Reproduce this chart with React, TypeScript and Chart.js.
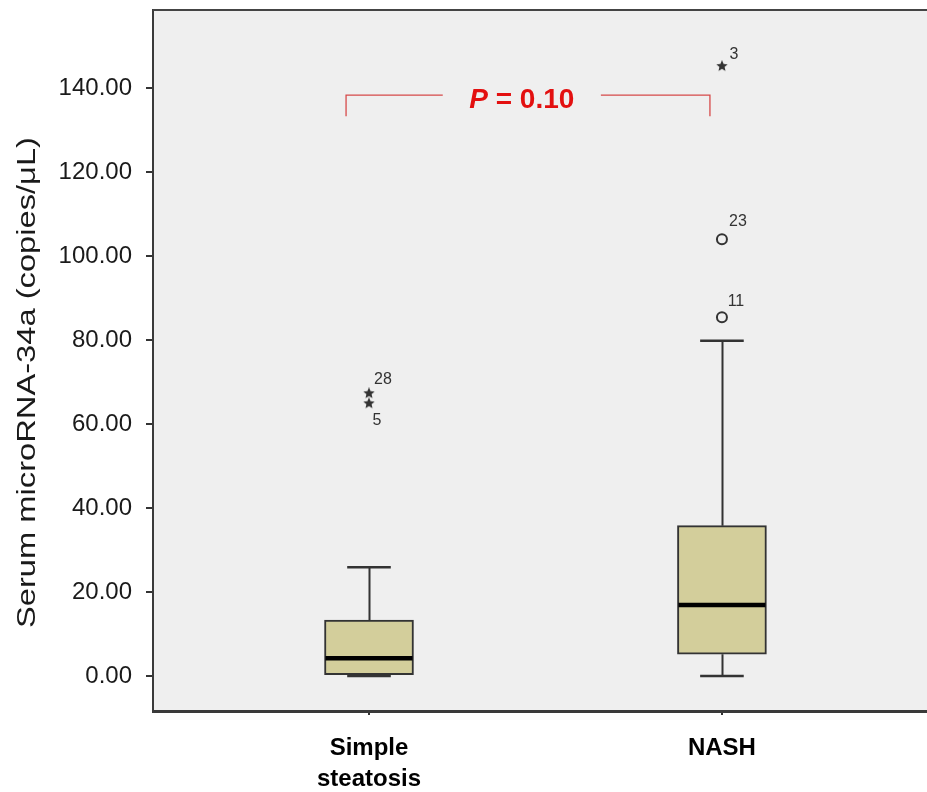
import React, { useEffect, useRef } from 'react';
import { Chart, registerables } from 'chart.js';

Chart.register(...registerables);

// ---------------- data ----------------
const categories = ['Simple steatosis', 'NASH'];
const categoryLabels = [['Simple', 'steatosis'], ['NASH']];
const categoryX = [1, 2];
const whiskerLow = [0, 0];
const q1 = [0.3, 5.2];
const median = [4.2, 16.9];
const q3 = [13.3, 35.8];
const whiskerHigh = [25.9, 79.8];
// extreme values (stars) and outliers (circles), per category
const extremeValues = [[67.3, 64.9], [145.2]];
const extremeIds = [['28', '5'], ['3']];
const outlierValues = [[], [104.0, 85.4]];
const outlierIds = [[], ['23', '11']];
const yTicks = [0, 20, 40, 60, 80, 100, 120, 140];
const yTitle = 'Serum microRNA-34a (copies/\u03BCL)';
const pPrefix = 'P';
const pSuffix = ' = 0.10';

// ---------------- styles / placement ----------------
const Y_MIN = -8.33;
const Y_MAX = 158.57;
const X_MIN = 0.388;
const X_MAX = 2.581;
const BOX_FILL = '#d3ce9b';
const DARK = '#333333';
const PLOT_BG = '#efefef';
const RED_LINE = '#d64a4a';
const RED_TEXT = '#e31010';
const labelOffsets: Record<string, [number, number]> = {
  '28': [14, -14],
  '5': [8, 17],
  '3': [12, -12],
  '23': [16, -18],
  '11': [14, -16],
};
// bracket for the P value (data coordinates)
const bracket = { x1: 0.935, x2: 1.966, yTop: 138.3, yBottom: 133.3, gapL: 1.209, gapR: 1.657, textX: 1.433, textY: 137.1 };

function makeStar(size: number, color: string) {
  const c = document.createElement('canvas');
  c.width = size;
  c.height = size;
  const g = c.getContext('2d')!;
  g.fillStyle = color;
  g.beginPath();
  const cx = size / 2, cy = size / 2, R = size / 2, r = R * 0.45;
  for (let k = 0; k < 10; k++) {
    const a = -Math.PI / 2 + (k * Math.PI) / 5;
    const rad = k % 2 === 0 ? R : r;
    g.lineTo(cx + rad * Math.cos(a), cy + rad * Math.sin(a));
  }
  g.closePath();
  g.fill();
  return c;
}

const boxPlugin = {
  id: 'boxExtras',
  beforeDraw(chart: any) {
    const { ctx, chartArea } = chart;
    ctx.save();
    ctx.fillStyle = PLOT_BG;
    ctx.fillRect(chartArea.left, chartArea.top, chartArea.right - chartArea.left, chartArea.bottom - chartArea.top);
    ctx.restore();
  },
  beforeDatasetsDraw(chart: any) {
    const { ctx, scales } = chart;
    const x = scales.x, y = scales.y;
    ctx.save();
    ctx.strokeStyle = DARK;
    ctx.lineWidth = 2;
    categoryX.forEach((cx, i) => {
      const px = Math.round(x.getPixelForValue(cx)) + 0.5;
      ctx.beginPath();
      ctx.moveTo(px, y.getPixelForValue(q3[i]));
      ctx.lineTo(px, y.getPixelForValue(whiskerHigh[i]));
      ctx.moveTo(px, y.getPixelForValue(q1[i]));
      ctx.lineTo(px, y.getPixelForValue(whiskerLow[i]));
      ctx.stroke();
    });
    ctx.restore();
  },
  afterDatasetsDraw(chart: any) {
    const { ctx, scales } = chart;
    const x = scales.x, y = scales.y;
    const meta = chart.getDatasetMeta(0);
    ctx.save();
    categoryX.forEach((cx, i) => {
      const px = x.getPixelForValue(cx);
      const bw = meta.data[i].width;
      // median
      ctx.strokeStyle = '#000';
      ctx.lineWidth = 4.5;
      ctx.beginPath();
      ctx.moveTo(px - bw / 2 + 1, y.getPixelForValue(median[i]));
      ctx.lineTo(px + bw / 2 - 1, y.getPixelForValue(median[i]));
      ctx.stroke();
      // caps
      ctx.strokeStyle = DARK;
      ctx.lineWidth = 2.5;
      const cw = bw * 0.245;
      [whiskerLow[i], whiskerHigh[i]].forEach((v) => {
        ctx.beginPath();
        ctx.moveTo(px - cw, y.getPixelForValue(v));
        ctx.lineTo(px + cw, y.getPixelForValue(v));
        ctx.stroke();
      });
    });
    // point labels
    ctx.fillStyle = DARK;
    ctx.font = '16px "Liberation Sans", Arial, sans-serif';
    ctx.textAlign = 'center';
    ctx.textBaseline = 'middle';
    const drawLabels = (vals: number[][], ids: string[][]) => {
      vals.forEach((arr, i) => {
        arr.forEach((v, j) => {
          const id = ids[i][j];
          const off = labelOffsets[id] || [12, -12];
          ctx.fillText(id, x.getPixelForValue(categoryX[i]) + off[0], y.getPixelForValue(v) + off[1]);
        });
      });
    };
    drawLabels(extremeValues, extremeIds);
    drawLabels(outlierValues, outlierIds);
    ctx.restore();
  },
  afterDraw(chart: any) {
    const { ctx, chartArea, scales } = chart;
    const x = scales.x, y = scales.y;
    ctx.save();
    // top frame line
    ctx.strokeStyle = '#444';
    ctx.lineWidth = 2;
    ctx.beginPath();
    ctx.moveTo(chartArea.left, chartArea.top);
    ctx.lineTo(chartArea.right, chartArea.top);
    ctx.stroke();
    // bracket
    ctx.strokeStyle = RED_LINE;
    ctx.lineWidth = 1.3;
    const xl = x.getPixelForValue(bracket.x1), xr = x.getPixelForValue(bracket.x2);
    const yt = y.getPixelForValue(bracket.yTop), yb = y.getPixelForValue(bracket.yBottom);
    ctx.beginPath();
    ctx.moveTo(xl, yb);
    ctx.lineTo(xl, yt);
    ctx.lineTo(x.getPixelForValue(bracket.gapL), yt);
    ctx.moveTo(x.getPixelForValue(bracket.gapR), yt);
    ctx.lineTo(xr, yt);
    ctx.lineTo(xr, yb);
    ctx.stroke();
    // P value text
    ctx.fillStyle = RED_TEXT;
    ctx.textBaseline = 'middle';
    const fItal = 'italic bold 28px "Liberation Sans", Arial, sans-serif';
    const fBold = 'bold 28px "Liberation Sans", Arial, sans-serif';
    ctx.font = fItal;
    const w1 = ctx.measureText(pPrefix).width;
    ctx.font = fBold;
    const w2 = ctx.measureText(pSuffix).width;
    const total = w1 + w2;
    const tx = x.getPixelForValue(bracket.textX) - total / 2;
    const ty = y.getPixelForValue(bracket.textY);
    ctx.textAlign = 'left';
    ctx.font = fItal;
    ctx.fillText(pPrefix, tx, ty);
    ctx.font = fBold;
    ctx.fillText(pSuffix, tx + w1, ty);
    // y axis title (stretched to match reference proportions)
    ctx.fillStyle = '#1a1a1a';
    ctx.font = '26px "Liberation Sans", Arial, sans-serif';
    const tw = ctx.measureText(yTitle).width;
    ctx.translate(28, (chartArea.top + chartArea.bottom) / 2 + 22);
    ctx.rotate(-Math.PI / 2);
    ctx.scale(491 / tw, 1);
    ctx.textAlign = 'center';
    ctx.textBaseline = 'middle';
    ctx.fillText(yTitle, 0, 0);
    ctx.restore();
  },
};

export default function App() {
  const ref = useRef<HTMLCanvasElement | null>(null);
  useEffect(() => {
    document.body.style.margin = '0';
    const canvas = ref.current!;
    const star = makeStar(12, DARK);
    const extremes: any[] = [];
    extremeValues.forEach((arr, i) => arr.forEach((v) => extremes.push({ x: categoryX[i], y: v })));
    const outliers: any[] = [];
    outlierValues.forEach((arr, i) => arr.forEach((v) => outliers.push({ x: categoryX[i], y: v })));

    const chart = new Chart(canvas, {
      type: 'bar',
      data: {
        labels: categories,
        datasets: [
          {
            type: 'bar',
            label: 'Box',
            data: categoryX.map((cx, i) => ({ x: cx, y: [q1[i], q3[i]] })) as any,
            backgroundColor: BOX_FILL,
            borderColor: DARK,
            borderWidth: 2,
            borderSkipped: false,
            barThickness: 89,
          } as any,
          {
            type: 'scatter',
            label: 'Extremes',
            data: extremes,
            pointStyle: star,
            pointRadius: 5,
          } as any,
          {
            type: 'scatter',
            label: 'Outliers',
            data: outliers,
            pointStyle: 'circle',
            pointRadius: 5,
            borderColor: DARK,
            borderWidth: 2,
            backgroundColor: 'rgba(0,0,0,0)',
          } as any,
        ],
      },
      options: {
        responsive: false,
        animation: false,
        devicePixelRatio: 1,
        layout: { autoPadding: false, padding: { top: 10, left: 0, right: 0, bottom: 0 } },
        plugins: { legend: { display: false }, tooltip: { enabled: false } },
        scales: {
          x: {
            type: 'linear',
            min: X_MIN,
            max: X_MAX,
            offset: false,
            afterFit: (s: any) => { s.height = 81; s.paddingLeft = 0; s.paddingRight = 0; },
            afterBuildTicks: (s: any) => { s.ticks = categoryX.map((v) => ({ value: v })); },
            grid: { display: true, drawOnChartArea: false, drawTicks: true, tickLength: 4, color: DARK, lineWidth: 2, offset: false },
            border: { display: true, color: '#3a3a3a', width: 3 },
            ticks: {
              autoSkip: false,
              maxRotation: 0,
              padding: 18,
              color: '#000',
              font: { family: '"Liberation Sans", Arial, sans-serif', size: 24, weight: 'bold', lineHeight: 1.3 },
              callback: (v: any) => categoryLabels[categoryX.indexOf(Number(v))] as any,
            },
          } as any,
          y: {
            type: 'linear',
            min: Y_MIN,
            max: Y_MAX,
            afterFit: (s: any) => { s.width = 153; s.paddingTop = 0; s.paddingBottom = 0; },
            afterBuildTicks: (s: any) => { s.ticks = yTicks.map((v) => ({ value: v })); },
            grid: { display: true, drawOnChartArea: false, drawTicks: true, tickLength: 7, color: DARK, lineWidth: 2 },
            border: { display: true, color: '#3a3a3a', width: 2 },
            ticks: {
              padding: 14,
              color: '#1a1a1a',
              font: { family: '"Liberation Sans", Arial, sans-serif', size: 24 },
              callback: (v: any) => Number(v).toFixed(2),
            },
          } as any,
        },
      },
      plugins: [boxPlugin],
    });
    return () => chart.destroy();
  }, []);
  return (
    <div style={{ position: 'absolute', left: 0, top: 0, width: 927, height: 792, background: '#fff' }}>
      <canvas ref={ref} width={927} height={792} style={{ display: 'block' }} />
    </div>
  );
}
